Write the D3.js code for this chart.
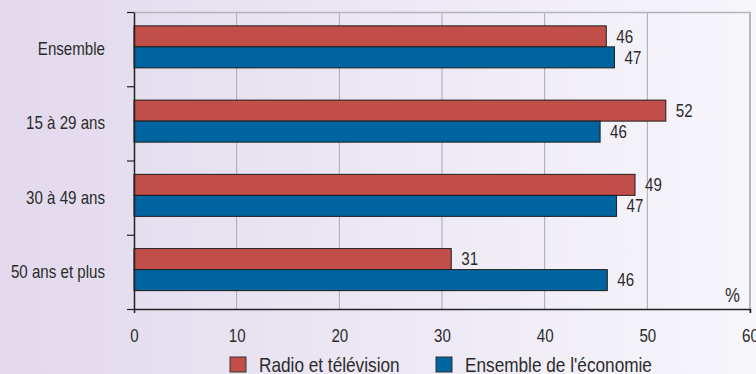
<!DOCTYPE html>
<html><head><meta charset="utf-8">
<script src="https://cdn.jsdelivr.net/npm/d3@7"></script>
<style>
html,body{margin:0;padding:0;}
svg{display:block;}
text{font-family:"Liberation Sans",Arial,sans-serif;fill:#2b2b2b;}
</style></head>
<body>
<script>
const categories = ["Ensemble", "15 à 29 ans", "30 à 49 ans", "50 ans et plus"];
const seriesNames = ["Radio et télévision", "Ensemble de l'économie"];
const radioTV = [46.0, 51.8, 48.8, 30.9];
const economie = [46.8, 45.4, 47.0, 46.1];
const radioLabels = ["46", "52", "49", "31"];
const economieLabels = ["47", "46", "47", "46"];
const xTicks = [0, 10, 20, 30, 40, 50, 60];
const colors = ["#c24e4a", "#0064a0"];

const W = 756, H = 374;
const m = {left: 134, right: 6, top: 12, bottom: 65};
const pw = W - m.left - m.right, ph = H - m.top - m.bottom;
const SX = 0.84; // condensed look

const svg = d3.select("body").append("svg").attr("width", W).attr("height", H);
const defs = svg.append("defs");
const grad = defs.append("linearGradient").attr("id", "bg").attr("x1", "0").attr("x2", "1").attr("y1", "0").attr("y2", "0");
grad.append("stop").attr("offset", "0").attr("stop-color", "#e2d9ec");
grad.append("stop").attr("offset", "1").attr("stop-color", "#f7f6fb");
svg.append("rect").attr("width", W).attr("height", H).attr("fill", "url(#bg)");

const g = svg.append("g").attr("transform", `translate(${m.left},${m.top})`);

const x = d3.scaleLinear().domain([0, 60]).range([0, pw]);
const y0 = d3.scaleBand().domain(categories).range([0, ph]).paddingInner(0.434).paddingOuter(0.217).align(0.43);
const y1 = d3.scaleBand().domain(seriesNames).range([0, y0.bandwidth()]);

// places text at (px,py) with horizontal condensing
function place(sel, fx, fy) {
  return sel.attr("transform", (d, i) => `translate(${fx(d, i)},${fy(d, i)}) scale(${SX},1)`);
}

// gridlines
g.append("g").selectAll("line").data(xTicks.filter(t => t > 0 && t < 60)).join("line")
  .attr("x1", d => x(d)).attr("x2", d => x(d)).attr("y1", 0).attr("y2", ph)
  .attr("stroke", "#a9a8b0").attr("stroke-width", 1);
// top border
g.append("line").attr("x1", 0).attr("x2", pw).attr("y1", 0.5).attr("y2", 0.5).attr("stroke", "#b4b3bb").attr("stroke-width", 1.5);
// right border
g.append("line").attr("x1", pw).attr("x2", pw).attr("y1", 0).attr("y2", ph + 4).attr("stroke", "#b8b7bf").attr("stroke-width", 2);

// bars
const rows = categories.map((c, i) => ({c, vals: [
  {s: seriesNames[0], v: radioTV[i], lab: radioLabels[i], k: 0},
  {s: seriesNames[1], v: economie[i], lab: economieLabels[i], k: 1}]}));
const grp = g.append("g").selectAll("g").data(rows).join("g").attr("transform", d => `translate(0,${y0(d.c)})`);
grp.selectAll("rect").data(d => d.vals).join("rect")
  .attr("x", 0).attr("y", d => y1(d.s)).attr("width", d => x(d.v)).attr("height", y1.bandwidth())
  .attr("fill", d => colors[d.k]).attr("stroke", "#1e1e1e").attr("stroke-width", 1);
place(grp.selectAll("text").data(d => d.vals).join("text"),
      d => x(d.v) + 10, d => y1(d.s) + y1.bandwidth() / 2)
  .attr("dy", "0.35em").attr("font-size", 18).text(d => d.lab);

// x axis
const xAxis = d3.axisBottom(x).tickValues(xTicks).tickSizeInner(0).tickSizeOuter(4).tickPadding(20);
const xa = g.append("g").attr("transform", `translate(0,${ph})`).call(xAxis);
xa.select(".domain").attr("stroke", "#222").attr("stroke-width", 1.5);
xa.selectAll("text").attr("font-size", 18).attr("fill", "#2b2b2b").attr("font-family", null)
  .attr("transform", `scale(${SX},1)`);

// y axis with boundary ticks
const yb = d3.scaleLinear().domain([0, categories.length]).range([0, ph]);
const ya = g.append("g").call(d3.axisLeft(yb).ticks(categories.length).tickSizeInner(7).tickSizeOuter(0).tickFormat(""));
ya.select(".domain").attr("stroke", "#222").attr("stroke-width", 1.5);
ya.selectAll(".tick line").attr("stroke", "#222").attr("stroke-width", 1.2);

// category labels
place(g.append("g").selectAll("text").data(categories).join("text"),
      () => -29, d => y0(d) + y0.bandwidth() / 2 + 2)
  .attr("dy", "0.35em").attr("text-anchor", "end").attr("font-size", 18).text(d => d);

// % unit
g.append("text").attr("transform", `translate(${pw - 10},${ph - 7}) scale(${SX},1)`)
  .attr("text-anchor", "end").attr("font-size", 20).text("%");

// legend
const legX = [230, 436];
const leg = svg.append("g").selectAll("g").data(seriesNames).join("g")
  .attr("transform", (d, i) => `translate(${legX[i]},357)`);
leg.append("rect").attr("width", 16).attr("height", 15).attr("fill", (d, i) => colors[i]).attr("stroke", "#333").attr("stroke-width", 1);
leg.append("text").attr("transform", `translate(29,15) scale(0.82,1)`).attr("font-size", 21).text(d => d);
</script>
</body></html>
